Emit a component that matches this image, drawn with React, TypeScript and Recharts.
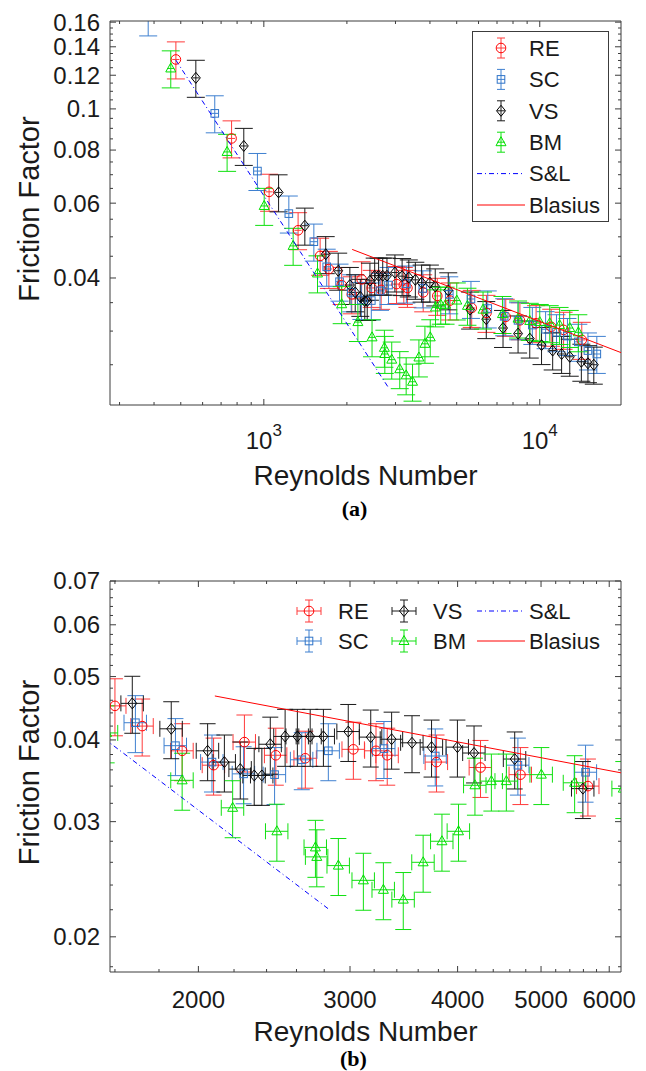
import React from 'react';
import { ScatterChart, Scatter, XAxis, YAxis, ErrorBar, Label } from 'recharts';

const FONT = '"Liberation Sans", Arial, Helvetica, sans-serif';
const SERIF = '"Liberation Serif", "Times New Roman", serif';
const AXIS = '#3c3c3c';
const INK = '#1a1a1a';

// ---- data: Reynolds number / friction factor ----
const RE_REYNOLDS = [480, 764, 1045, 1331, 1600, 1721, 1915, 2083, 2262, 2460, 2662, 3027, 3216, 3314, 3781, 4253, 4732, 5668, 6410, 7530, 8473, 9700, 11000, 12200, 14200];
const RE_FRICTION = [0.1307, 0.0852, 0.0638, 0.0518, 0.0451, 0.042, 0.0385, 0.0366, 0.0397, 0.0379, 0.0375, 0.0387, 0.0385, 0.0379, 0.037, 0.0363, 0.0354, 0.034, 0.0331, 0.0324, 0.0318, 0.0313, 0.0307, 0.0302, 0.0286];

const SC_REYNOLDS = [381, 664, 948, 1232, 1518, 1690, 1881, 2074, 2257, 2452, 2637, 2831, 3285, 3768, 4700, 5632, 6480, 7430, 8345, 9400, 10500, 11500, 12600, 13800, 14950, 16100];
const SC_FRICTION = [0.165, 0.0976, 0.0714, 0.0567, 0.0487, 0.0425, 0.0392, 0.037, 0.0355, 0.0354, 0.0373, 0.0385, 0.0388, 0.0378, 0.0366, 0.0357, 0.0339, 0.0325, 0.0318, 0.031, 0.0303, 0.0298, 0.0292, 0.0283, 0.027, 0.0265];

const VS_REYNOLDS = [567, 846, 1131, 1408, 1676, 1860, 2050, 2144, 2237, 2322, 2370, 2424, 2522, 2606, 2697, 2794, 2986, 3171, 3353, 3541, 3731, 3998, 4180, 4660, 5592, 6400, 7360, 8345, 9200, 10150, 11140, 12000, 12845, 14150, 14950, 15700];
const VS_FRICTION = [0.1183, 0.0818, 0.0636, 0.0531, 0.0455, 0.0416, 0.0385, 0.037, 0.0361, 0.0353, 0.0353, 0.0394, 0.0405, 0.0405, 0.0405, 0.0405, 0.0412, 0.0404, 0.0401, 0.0396, 0.039, 0.039, 0.0382, 0.0374, 0.0337, 0.032, 0.0305, 0.0296, 0.0288, 0.0278, 0.027, 0.0265, 0.0261, 0.0254, 0.0252, 0.025];

const BM_REYNOLDS = [460, 736, 1003, 1277, 1565, 1915, 2192, 2467, 2735, 2745, 2908, 3109, 3280, 3459, 3648, 3836, 4010, 4190, 4378, 4557, 5004, 5470, 6230, 7326, 8345, 9200, 10000, 10870, 11800, 12845, 13800];
const BM_FRICTION = [0.1245, 0.0792, 0.0591, 0.0476, 0.041, 0.0347, 0.0315, 0.029, 0.0274, 0.0265, 0.0257, 0.0244, 0.0236, 0.0228, 0.026, 0.028, 0.029, 0.0341, 0.0346, 0.0346, 0.0354, 0.0344, 0.0337, 0.0329, 0.0321, 0.0317, 0.0315, 0.0313, 0.031, 0.0305, 0.0298];

// reference lines: end points
const SL_REYNOLDS = [480, 2840];
const SL_FRICTION = [0.1302, 0.022];
const BLASIUS_REYNOLDS = [2090, 19700];
const BLASIUS_FRICTION = [0.0467, 0.0267];

// error bars: about +-3% in Re and +-10% in f everywhere
const X_ERR = 0.03;
const Y_ERR = 0.1;

// ---- ticks ----
const A_X_MAJOR = [1000, 10000];
const A_X_EXP = ['3', '4'];
const A_X_MINOR = [300, 400, 500, 600, 700, 800, 900, 2000, 3000, 4000, 5000, 6000, 7000, 8000, 9000];
const A_Y_MAJOR = [0.04, 0.06, 0.08, 0.1, 0.12, 0.14, 0.16];
const A_Y_LABELS = ['0.04', '0.06', '0.08', '0.1', '0.12', '0.14', '0.16'];
const A_Y_MINOR = [0.025, 0.03, 0.035, 0.045, 0.05, 0.055, 0.065, 0.07, 0.075, 0.085, 0.09, 0.095, 0.105, 0.11, 0.115, 0.125, 0.13, 0.135, 0.145, 0.15, 0.155];

const B_X_MAJOR = [2000, 3000, 4000, 5000, 6000];
const B_X_LABELS = ['2000', '3000', '4000', '5000', '6000'];
const B_X_MINOR = [1600, 1800, 2200, 2400, 2600, 2800, 3200, 3400, 3600, 3800, 4200, 4400, 4600, 4800, 5200, 5400, 5600, 5800];
const B_Y_MAJOR = [0.02, 0.03, 0.04, 0.05, 0.06, 0.07];
const B_Y_LABELS = ['0.02', '0.03', '0.04', '0.05', '0.06', '0.07'];
const B_Y_MINOR = [0.018, 0.022, 0.024, 0.026, 0.028, 0.032, 0.034, 0.036, 0.038, 0.042, 0.044, 0.046, 0.048, 0.052, 0.054, 0.056, 0.058, 0.062, 0.064, 0.066, 0.068];

type Kind = 'circle' | 'square' | 'diamond' | 'triangle';

const toPoints = (xs: number[], ys: number[]) =>
  xs.map((re, i) => ({ re, f: ys[i], ex: [re * X_ERR, re * X_ERR], ey: [ys[i] * Y_ERR, ys[i] * Y_ERR] }));
const toLine = (xs: number[], ys: number[]) => xs.map((re, i) => ({ re, f: ys[i] }));

const SERIES: { name: string; kind: Kind; color: string; bar: string; data: any[] }[] = [
  { name: 'RE', kind: 'circle', color: '#ff0000', bar: '#ff3a3a', data: toPoints(RE_REYNOLDS, RE_FRICTION) },
  { name: 'SC', kind: 'square', color: '#2f74c8', bar: '#3f80d0', data: toPoints(SC_REYNOLDS, SC_FRICTION) },
  { name: 'VS', kind: 'diamond', color: '#000000', bar: '#1a1a1a', data: toPoints(VS_REYNOLDS, VS_FRICTION) },
  { name: 'BM', kind: 'triangle', color: '#00e000', bar: '#10e010', data: toPoints(BM_REYNOLDS, BM_FRICTION) },
];

const LINES = [
  { name: 'S&L', color: '#0000ff', dash: '5 3 1 3', data: toLine(SL_REYNOLDS, SL_FRICTION) },
  { name: 'Blasius', color: '#ff0000', dash: undefined, data: toLine(BLASIUS_REYNOLDS, BLASIUS_FRICTION) },
];

function Marker({ kind, cx, cy, color }: { kind: Kind; cx: number; cy: number; color: string }) {
  const st = { fill: 'none', stroke: color, strokeWidth: 1 };
  if (kind === 'circle') return <circle cx={cx} cy={cy} r={4.8} {...st} />;
  if (kind === 'square') return <rect x={cx - 3.8} y={cy - 3.8} width={7.6} height={7.6} {...st} />;
  if (kind === 'diamond')
    return <polygon points={`${cx},${cy - 5.5} ${cx + 4.5},${cy} ${cx},${cy + 5.5} ${cx - 4.5},${cy}`} {...st} />;
  return <polygon points={`${cx},${cy - 5.5} ${cx + 5},${cy + 3.5} ${cx - 5},${cy + 3.5}`} {...st} />;
}

type Side = 'bottom' | 'top' | 'left' | 'right';

// inward MATLAB-style ticks, longer on labelled values
function makeTick(side: Side, majors: number[], label?: (i: number, x: number, y: number) => React.ReactNode) {
  return (props: any) => {
    const { x, y, payload } = props;
    const v = payload.value;
    const i = majors.findIndex((m) => Math.abs(m - v) <= m * 1e-6);
    const len = i >= 0 ? 6 : 3;
    const x2 = side === 'left' ? x + len : side === 'right' ? x - len : x;
    const y2 = side === 'bottom' ? y - len : side === 'top' ? y + len : y;
    return (
      <g>
        <line x1={x} y1={y} x2={x2} y2={y2} stroke={AXIS} strokeWidth={1} />
        {i >= 0 && label ? label(i, x, y) : null}
      </g>
    );
  };
}

const yLabel = (labels: string[]) => (i: number, x: number, y: number) => (
  <text x={x - 10} y={y} dy="0.35em" textAnchor="end" fontSize={24} fontFamily={FONT} fill={INK}>
    {labels[i]}
  </text>
);

const PLOT_A = {
  id: 'a',
  height: 540,
  margin: { top: 20, right: 24, bottom: 10, left: 10 },
  yAxisWidth: 100,
  xDomain: [277, 19700],
  yDomain: [0.0201, 0.161],
  xMajor: A_X_MAJOR,
  xMinor: A_X_MINOR,
  xLabel: (i: number, x: number, y: number) => (
    <text x={x} y={y + 44} textAnchor="middle" fontSize={24} fontFamily={FONT} fill={INK}>
      10<tspan dy={-13} fontSize={17}>{A_X_EXP[i]}</tspan>
    </text>
  ),
  yMajor: A_Y_MAJOR,
  yMinor: A_Y_MINOR,
  yLabels: A_Y_LABELS,
  xAxisHeight: 125,
  titleDy: 80,
  capDy: 111,
  capDx: -11,
  caption: '(a)',
  xCap: 0,
  yCap: 9,
};

const PLOT_B = {
  id: 'b',
  height: 531,
  margin: { top: 40, right: 24, bottom: 9, left: 10 },
  yAxisWidth: 100,
  xDomain: [1579, 6192],
  yDomain: [0.01767, 0.07],
  xMajor: B_X_MAJOR,
  xMinor: B_X_MINOR,
  xLabel: (i: number, x: number, y: number) => (
    <text x={x} y={y + 36} textAnchor="middle" fontSize={24} fontFamily={FONT} fill={INK}>
      {B_X_LABELS[i]}
    </text>
  ),
  yMajor: B_Y_MAJOR,
  yMinor: B_Y_MINOR,
  yLabels: B_Y_LABELS,
  xAxisHeight: 90,
  titleDy: 69,
  capDy: 94,
  capDx: -12,
  caption: '(b)',
  xCap: 8,
  yCap: 8,
};

type Cfg = typeof PLOT_A;

// plot rectangle in chart pixels, used to clip the series to the axes box
const plotBox = (cfg: Cfg) => {
  const x = cfg.margin.left + cfg.yAxisWidth;
  const y = cfg.margin.top + 1;
  return { x, y, width: 646 - x - cfg.margin.right - 1, height: cfg.height - y - cfg.margin.bottom - cfg.xAxisHeight };
};

// drop points that lie far outside a panel's range
const inRange = (cfg: Cfg) => (d: { re: number; f: number }) =>
  d.re > cfg.xDomain[0] / 1.15 && d.re < cfg.xDomain[1] * 1.15 && d.f > cfg.yDomain[0] / 1.3 && d.f < cfg.yDomain[1] * 1.3;

function FrictionPlot({ cfg }: { cfg: Cfg }) {
  const xTicks = [...cfg.xMajor, ...cfg.xMinor];
  const yTicks = [...cfg.yMajor, ...cfg.yMinor];
  const keep = inRange(cfg);
  const box = plotBox(cfg);
  const clipId = `plot-clip-${cfg.id}`;
  const common = { type: 'number' as const, scale: 'log' as const, allowDataOverflow: true, interval: 0, tickSize: 0, tickMargin: 0, tickLine: false, stroke: AXIS };
  return (
    <div className={`plot-${cfg.id}`} style={{ position: 'relative' }}>
      <svg width={0} height={0} style={{ position: 'absolute' }}>
        <defs>
          <clipPath id={clipId} clipPathUnits="userSpaceOnUse">
            <rect x={box.x} y={box.y} width={box.width} height={box.height} />
          </clipPath>
        </defs>
      </svg>
      <style>{`.plot-${cfg.id} .recharts-scatter, .plot-${cfg.id} .recharts-scatter-symbol, .plot-${cfg.id} .recharts-errorBar, .plot-${cfg.id} .recharts-scatter-line { clip-path: url(#${clipId}); }`}</style>
      <ScatterChart width={646} height={cfg.height} margin={cfg.margin}>
        <XAxis {...common} dataKey="re" domain={cfg.xDomain} ticks={xTicks} height={cfg.xAxisHeight} tick={makeTick('bottom', cfg.xMajor, cfg.xLabel)}>
          <Label
            content={(p: any) => {
              const vb = p.viewBox || { x: box.x, y: box.y + box.height, width: box.width };
              const cx = vb.x + vb.width / 2;
              return (
                <g>
                  <text x={cx} y={vb.y + cfg.titleDy} textAnchor="middle" fontSize={28} fontFamily={FONT} fill={INK}>
                    Reynolds Number
                  </text>
                  <text x={cx + cfg.capDx} y={vb.y + cfg.capDy} textAnchor="middle" fontSize={22} fontWeight="bold" fontFamily={SERIF} fill="#000">
                    {cfg.caption}
                  </text>
                </g>
              );
            }}
          />
        </XAxis>
        <XAxis {...common} xAxisId="top" orientation="top" dataKey="re" domain={cfg.xDomain} ticks={xTicks} height={1} tick={makeTick('top', cfg.xMajor)} />
        <YAxis {...common} dataKey="f" domain={cfg.yDomain} ticks={yTicks} width={cfg.yAxisWidth} tick={makeTick('left', cfg.yMajor, yLabel(cfg.yLabels))}>
          <Label
            content={(p: any) => {
              const vb = p.viewBox || { x: cfg.margin.left, y: box.y, height: box.height };
              const cx = vb.x + 29;
              const cy = vb.y + vb.height / 2 - 4;
              return (
                <text x={cx} y={cy} transform={`rotate(-90 ${cx} ${cy})`} textAnchor="middle" fontSize={29} fontFamily={FONT} fill={INK}>
                  Friction Factor
                </text>
              );
            }}
          />
        </YAxis>
        <YAxis {...common} yAxisId="right" orientation="right" dataKey="f" domain={cfg.yDomain} ticks={yTicks} width={1} tick={makeTick('right', cfg.yMajor)} />

        {SERIES.map((s) => (
          <Scatter
            key={s.name}
            name={s.name}
            data={s.data.filter(keep)}
            isAnimationActive={false}
            shape={(p: any) => <Marker kind={s.kind} cx={p.cx} cy={p.cy} color={s.color} />}
          >
            <ErrorBar dataKey="ey" direction="y" width={cfg.yCap} stroke={s.bar} strokeWidth={1} />
            <ErrorBar dataKey="ex" direction="x" width={cfg.xCap} stroke={s.bar} strokeWidth={1} />
          </Scatter>
        ))}
        {LINES.map((l) => (
          <Scatter
            key={l.name}
            name={l.name}
            data={l.data}
            isAnimationActive={false}
            line={{ stroke: l.color, strokeWidth: 1, strokeDasharray: l.dash }}
            shape={() => <g />}
          />
        ))}
      </ScatterChart>
    </div>
  );
}

function LegendA() {
  const rowY = (i: number) => 17 + i * 31.4;
  return (
    <svg style={{ position: 'absolute', left: 472, top: 31 }} width={137} height={191}>
      <rect x={0.5} y={0.5} width={136} height={190} fill="#fff" stroke={AXIS} />
      {SERIES.map((s, i) => {
        const y = rowY(i);
        return (
          <g key={s.name}>
            <line x1={29} x2={29} y1={y - 10} y2={y + 10} stroke={s.bar} />
            <line x1={25} x2={33} y1={y - 10} y2={y - 10} stroke={s.bar} />
            <line x1={25} x2={33} y1={y + 10} y2={y + 10} stroke={s.bar} />
            <line x1={25} x2={33} y1={y} y2={y} stroke={s.bar} />
            <Marker kind={s.kind} cx={29} cy={y} color={s.color} />
            <text x={57} y={y} dy="0.35em" fontSize={22} fontFamily={FONT} fill={INK}>{s.name}</text>
          </g>
        );
      })}
      {LINES.map((l, j) => {
        const y = rowY(SERIES.length + j);
        return (
          <g key={l.name}>
            <line x1={5} x2={53} y1={y} y2={y} stroke={l.color} strokeDasharray={l.dash} />
            <text x={57} y={y} dy="0.35em" fontSize={22} fontFamily={FONT} fill={INK}>{l.name}</text>
          </g>
        );
      })}
    </svg>
  );
}

function LegendB() {
  const rows = [16, 46];
  const cols = [19, 114];
  return (
    <svg style={{ position: 'absolute', left: 290, top: 55 }} width={340} height={65}>
      {SERIES.map((s, k) => {
        const cx = cols[Math.floor(k / 2)];
        const y = rows[k % 2];
        return (
          <g key={s.name}>
            <line x1={cx - 12} x2={cx + 12} y1={y} y2={y} stroke={s.bar} />
            <line x1={cx - 12} x2={cx - 12} y1={y - 4} y2={y + 4} stroke={s.bar} />
            <line x1={cx + 12} x2={cx + 12} y1={y - 4} y2={y + 4} stroke={s.bar} />
            <line x1={cx} x2={cx} y1={y - 11} y2={y + 11} stroke={s.bar} />
            <line x1={cx - 4} x2={cx + 4} y1={y - 11} y2={y - 11} stroke={s.bar} />
            <line x1={cx - 4} x2={cx + 4} y1={y + 11} y2={y + 11} stroke={s.bar} />
            <Marker kind={s.kind} cx={cx} cy={y} color={s.color} />
            <text x={cx + 29} y={y} dy="0.35em" fontSize={22} fontFamily={FONT} fill={INK}>{s.name}</text>
          </g>
        );
      })}
      {LINES.map((l, j) => (
        <g key={l.name}>
          <line x1={187} x2={235} y1={rows[j]} y2={rows[j]} stroke={l.color} strokeDasharray={l.dash} />
          <text x={239} y={rows[j]} dy="0.35em" fontSize={22} fontFamily={FONT} fill={INK}>{l.name}</text>
        </g>
      ))}
    </svg>
  );
}

export default function App() {
  return (
    <div style={{ position: 'absolute', left: 0, top: 0, width: 646, height: 1071, background: '#fff', fontFamily: FONT }}>
      <div style={{ position: 'relative', width: 646, height: 540 }}>
        <FrictionPlot cfg={PLOT_A} />
        <LegendA />
      </div>
      <div style={{ position: 'relative', width: 646, height: 531 }}>
        <FrictionPlot cfg={PLOT_B} />
        <LegendB />
      </div>
    </div>
  );
}
